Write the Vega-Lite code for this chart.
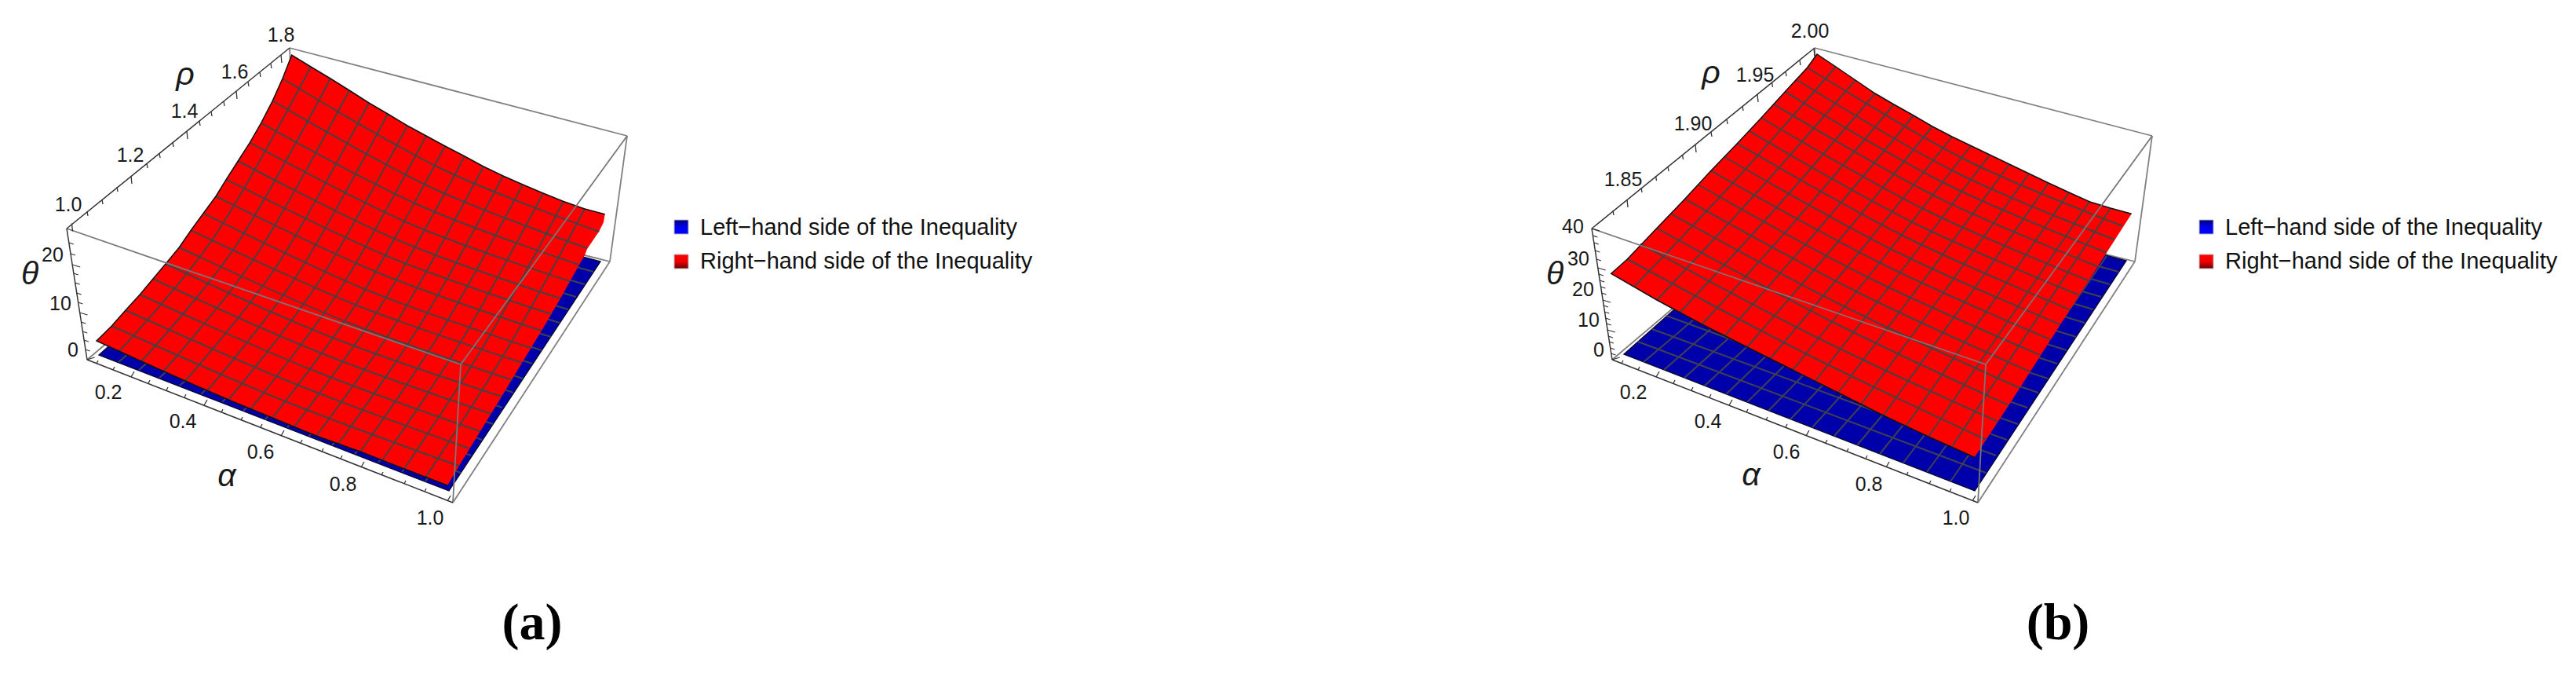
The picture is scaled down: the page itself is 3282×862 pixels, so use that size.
{
"$schema":"https://vega.github.io/schema/vega-lite/v6.json",
"autosize":{"type":"fit","contains":"padding"},"width":3282,"height":862,"padding":0,
"background":"white","view":{"stroke":null},
"encoding":{"x":{"field":"x","type":"quantitative","scale":{"domain":[0,3282],"nice":false,"zero":false},"axis":null},
"y":{"field":"y","type":"quantitative","scale":{"domain":[862,0],"nice":false,"zero":false},"axis":null}},
"datasets":{
"backBox":[
{"x":369,"y":61,"x2":799,"y2":173},{"x":799,"y":173,"x2":777,"y2":333},{"x":777,"y":333,"x2":377,"y2":233},{"x":111,"y":458,"x2":377,"y2":233},{"x":369,"y":61,"x2":377,"y2":233},{"x":577,"y":640,"x2":777,"y2":333},
{"x":2312,"y":61,"x2":2742,"y2":173},{"x":2742,"y":173,"x2":2720,"y2":333},{"x":2720,"y":333,"x2":2320,"y2":233},{"x":2054,"y":458,"x2":2320,"y2":233},{"x":2312,"y":61,"x2":2320,"y2":233},{"x":2520,"y":640,"x2":2720,"y2":333}],
"frontBox":[
{"x":85,"y":291,"x2":587,"y2":464},{"x":587,"y":464,"x2":799,"y2":173},{"x":587,"y":464,"x2":577,"y2":640},
{"x":2028,"y":291,"x2":2530,"y2":464},{"x":2530,"y":464,"x2":2742,"y2":173},{"x":2530,"y":464,"x2":2520,"y2":640}],
"axes":[
{"x":85,"y":291,"x2":369,"y2":61},{"x":85,"y":291,"x2":111,"y2":458},{"x":111,"y":458,"x2":577,"y2":640},
{"x":2028,"y":291,"x2":2312,"y2":61},{"x":2028,"y":291,"x2":2054,"y2":458},{"x":2054,"y":458,"x2":2520,"y2":640}],
"ticks":[
{"x":123,"y":463,"x2":125,"y2":459},{"x":144,"y":471,"x2":146,"y2":467},{"x":167,"y":480,"x2":171,"y2":473},{"x":189,"y":488,"x2":191,"y2":484},{"x":212,"y":497,"x2":214,"y2":493},{"x":235,"y":506,"x2":237,"y2":502},{"x":260,"y":516,"x2":264,"y2":509},{"x":282,"y":525,"x2":284,"y2":521},{"x":307,"y":535,"x2":309,"y2":531},{"x":332,"y":544,"x2":334,"y2":540},{"x":358,"y":555,"x2":362,"y2":548},{"x":383,"y":564,"x2":385,"y2":560},{"x":410,"y":575,"x2":412,"y2":571},{"x":434,"y":584,"x2":436,"y2":580},{"x":460,"y":595,"x2":464,"y2":588},{"x":486,"y":605,"x2":488,"y2":601},{"x":515,"y":616,"x2":517,"y2":612},{"x":541,"y":626,"x2":543,"y2":622},{"x":570,"y":638,"x2":574,"y2":631},
{"x":2066,"y":463,"x2":2068,"y2":459},{"x":2087,"y":471,"x2":2089,"y2":467},{"x":2110,"y":480,"x2":2114,"y2":473},{"x":2132,"y":488,"x2":2134,"y2":484},{"x":2155,"y":497,"x2":2157,"y2":493},{"x":2178,"y":506,"x2":2180,"y2":502},{"x":2203,"y":516,"x2":2207,"y2":509},{"x":2225,"y":525,"x2":2227,"y2":521},{"x":2250,"y":535,"x2":2252,"y2":531},{"x":2275,"y":544,"x2":2277,"y2":540},{"x":2301,"y":555,"x2":2305,"y2":548},{"x":2326,"y":564,"x2":2328,"y2":560},{"x":2353,"y":575,"x2":2355,"y2":571},{"x":2377,"y":584,"x2":2379,"y2":580},{"x":2403,"y":595,"x2":2407,"y2":588},{"x":2429,"y":605,"x2":2431,"y2":601},{"x":2458,"y":616,"x2":2460,"y2":612},{"x":2484,"y":626,"x2":2486,"y2":622},{"x":2513,"y":638,"x2":2517,"y2":631},
{"x":91.5,"y":284.5,"x2":92.5,"y2":294.5},{"x":111,"y":269,"x2":112,"y2":275},{"x":130,"y":254,"x2":131,"y2":260},{"x":149,"y":238,"x2":150,"y2":244},{"x":167,"y":224,"x2":168,"y2":234},{"x":187,"y":208,"x2":188,"y2":214},{"x":203,"y":195,"x2":204,"y2":201},{"x":220,"y":181,"x2":221,"y2":187},{"x":238,"y":167,"x2":239,"y2":177},{"x":254,"y":154,"x2":255,"y2":160},{"x":269,"y":142,"x2":270,"y2":148},{"x":285,"y":129,"x2":286,"y2":135},{"x":301,"y":116,"x2":302,"y2":126},{"x":316,"y":104,"x2":317,"y2":110},{"x":331,"y":92,"x2":332,"y2":98},{"x":345,"y":81,"x2":346,"y2":87},{"x":358,"y":70,"x2":359,"y2":80},
{"x":2055,"y":268,"x2":2056,"y2":274},{"x":2073,"y":254,"x2":2074,"y2":264},{"x":2091,"y":239,"x2":2092,"y2":245},{"x":2109.5,"y":224,"x2":2110.5,"y2":230},{"x":2125,"y":212,"x2":2126,"y2":218},{"x":2143.5,"y":197,"x2":2144.5,"y2":203},{"x":2160,"y":184,"x2":2161,"y2":194},{"x":2180,"y":168,"x2":2181,"y2":174},{"x":2200,"y":152,"x2":2201,"y2":158},{"x":2220,"y":135,"x2":2221,"y2":141},{"x":2239,"y":120,"x2":2240,"y2":130},{"x":2257.5,"y":105,"x2":2258.5,"y2":111},{"x":2275,"y":91,"x2":2276,"y2":97},{"x":2293,"y":77,"x2":2294,"y2":83},{"x":2311,"y":62,"x2":2312,"y2":72},
{"x":87.8,"y":309,"x2":93.8,"y2":311},{"x":90,"y":323,"x2":96,"y2":325},{"x":92.1,"y":337,"x2":102.1,"y2":340},{"x":93.8,"y":348,"x2":99.8,"y2":350},{"x":95.6,"y":360,"x2":101.6,"y2":362},{"x":97.6,"y":373,"x2":103.6,"y2":375},{"x":99.5,"y":385,"x2":105.5,"y2":387},{"x":101.5,"y":398,"x2":111.5,"y2":401},{"x":103.3,"y":410,"x2":109.3,"y2":412},{"x":105.2,"y":422,"x2":111.2,"y2":424},{"x":106.9,"y":433,"x2":112.9,"y2":435},{"x":108.7,"y":445,"x2":114.7,"y2":447},{"x":110.7,"y":458,"x2":120.7,"y2":455},
{"x":2028,"y":291,"x2":2038,"y2":294},{"x":2029.4,"y":300,"x2":2035.4,"y2":302},{"x":2030.8,"y":309,"x2":2036.8,"y2":311},{"x":2032.3,"y":319,"x2":2038.3,"y2":321},{"x":2034,"y":330,"x2":2040,"y2":332},{"x":2035.7,"y":341,"x2":2045.7,"y2":344},{"x":2037,"y":349,"x2":2043,"y2":351},{"x":2038.2,"y":357,"x2":2044.2,"y2":359},{"x":2039.4,"y":365,"x2":2045.4,"y2":367},{"x":2040.6,"y":373,"x2":2046.6,"y2":375},{"x":2042,"y":382,"x2":2052,"y2":385},{"x":2043,"y":389,"x2":2049,"y2":391},{"x":2044.3,"y":397,"x2":2050.3,"y2":399},{"x":2045.6,"y":405,"x2":2051.6,"y2":407},{"x":2046.6,"y":412,"x2":2052.6,"y2":414},{"x":2047.9,"y":420,"x2":2057.9,"y2":423},{"x":2049,"y":428,"x2":2055,"y2":430},{"x":2050,"y":435,"x2":2056,"y2":437},{"x":2051.4,"y":443,"x2":2057.4,"y2":445},{"x":2052.5,"y":450,"x2":2058.5,"y2":452},{"x":2053.7,"y":458,"x2":2063.7,"y2":455}],
"blueSurface":[
{"p":"a","o":0,"x":377,"y":228},{"p":"a","o":1,"x":126,"y":452},{"p":"a","o":2,"x":572,"y":625},{"p":"a","o":3,"x":765,"y":333},{"p":"a","o":4,"x":377,"y":228},
{"p":"b","o":0,"x":2320,"y":228},{"p":"b","o":1,"x":2069,"y":451},{"p":"b","o":2,"x":2516,"y":625},{"p":"b","o":3,"x":2709,"y":332},{"p":"b","o":4,"x":2320,"y":228}],
"blueMesh":[
{"x":151,"y":461,"x2":401,"y2":249},{"x":177,"y":471,"x2":426,"y2":254},{"x":203,"y":481,"x2":450,"y2":260},{"x":229,"y":491,"x2":474,"y2":265},{"x":256,"y":502,"x2":498,"y2":271},{"x":283,"y":512,"x2":523,"y2":276},{"x":310,"y":523,"x2":547,"y2":282},{"x":338,"y":534,"x2":571,"y2":287},{"x":366,"y":544,"x2":595,"y2":293},{"x":394,"y":555,"x2":620,"y2":299},{"x":423,"y":567,"x2":644,"y2":304},{"x":452,"y":578,"x2":668,"y2":310},{"x":482,"y":589,"x2":692,"y2":315},{"x":512,"y":601,"x2":717,"y2":321},{"x":542,"y":613,"x2":741,"y2":326},
{"x":144,"y":435,"x2":587,"y2":602},{"x":162,"y":419,"x2":600,"y2":580},{"x":180,"y":402,"x2":614,"y2":560},{"x":197,"y":387,"x2":628,"y2":540},{"x":214,"y":372,"x2":640,"y2":519},{"x":231,"y":357,"x2":654,"y2":500},{"x":247,"y":342,"x2":666,"y2":482},{"x":263,"y":328,"x2":678,"y2":463},{"x":278,"y":315,"x2":690,"y2":446},{"x":293,"y":301,"x2":702,"y2":429},{"x":308,"y":287,"x2":713,"y2":411},{"x":322,"y":275,"x2":724,"y2":394},{"x":337,"y":261,"x2":734,"y2":378},{"x":351,"y":249,"x2":745,"y2":362},{"x":364,"y":237,"x2":756,"y2":346},
{"x":2094,"y":461,"x2":2344,"y2":249},{"x":2120,"y":471,"x2":2369,"y2":254},{"x":2146,"y":481,"x2":2393,"y2":260},{"x":2172,"y":491,"x2":2417,"y2":265},{"x":2199,"y":502,"x2":2441,"y2":271},{"x":2226,"y":512,"x2":2466,"y2":276},{"x":2253,"y":523,"x2":2490,"y2":282},{"x":2281,"y":534,"x2":2514,"y2":287},{"x":2309,"y":544,"x2":2538,"y2":293},{"x":2337,"y":555,"x2":2563,"y2":299},{"x":2366,"y":567,"x2":2587,"y2":304},{"x":2395,"y":578,"x2":2611,"y2":310},{"x":2425,"y":589,"x2":2635,"y2":315},{"x":2455,"y":601,"x2":2660,"y2":321},{"x":2485,"y":613,"x2":2684,"y2":326},
{"x":2087,"y":435,"x2":2530,"y2":602},{"x":2105,"y":419,"x2":2543,"y2":580},{"x":2123,"y":402,"x2":2557,"y2":560},{"x":2140,"y":387,"x2":2571,"y2":540},{"x":2157,"y":372,"x2":2583,"y2":519},{"x":2174,"y":357,"x2":2597,"y2":500},{"x":2190,"y":342,"x2":2609,"y2":482},{"x":2206,"y":328,"x2":2621,"y2":463},{"x":2221,"y":315,"x2":2633,"y2":446},{"x":2236,"y":301,"x2":2645,"y2":429},{"x":2251,"y":287,"x2":2656,"y2":411},{"x":2265,"y":275,"x2":2667,"y2":394},{"x":2280,"y":261,"x2":2677,"y2":378},{"x":2294,"y":249,"x2":2688,"y2":362},{"x":2307,"y":237,"x2":2699,"y2":346}],
"redSurface":[
{"p":"a","o":0,"e":1,"x":570,"y":618},{"p":"a","o":1,"e":1,"x":515,"y":597},{"p":"a","o":2,"e":1,"x":459,"y":575},{"p":"a","o":3,"e":1,"x":403,"y":555},{"p":"a","o":4,"e":1,"x":347,"y":532},{"p":"a","o":5,"e":1,"x":291,"y":509},{"p":"a","o":6,"e":1,"x":236,"y":485},{"p":"a","o":7,"e":1,"x":180,"y":460},{"p":"a","o":8,"e":1,"x":123,"y":434},{"p":"a","o":9,"e":1,"x":142.3,"y":415},{"p":"a","o":10,"e":1,"x":160,"y":395},{"p":"a","o":11,"e":1,"x":178.3,"y":375},{"p":"a","o":12,"e":1,"x":195,"y":355},{"p":"a","o":13,"e":1,"x":211,"y":336},{"p":"a","o":14,"e":1,"x":228.3,"y":315},{"p":"a","o":15,"e":1,"x":243.3,"y":293.3},{"p":"a","o":16,"e":1,"x":259,"y":271.7},{"p":"a","o":17,"e":1,"x":275,"y":250},{"p":"a","o":18,"e":1,"x":288.3,"y":228.3},{"p":"a","o":19,"e":1,"x":303.3,"y":205},{"p":"a","o":20,"e":1,"x":318.3,"y":181.7},{"p":"a","o":21,"e":1,"x":332.7,"y":156.7},{"p":"a","o":22,"e":1,"x":347.3,"y":128.3},{"p":"a","o":23,"e":1,"x":360,"y":100},{"p":"a","o":24,"e":1,"x":371.7,"y":70},{"p":"a","o":25,"e":1,"x":396,"y":85},{"p":"a","o":26,"e":1,"x":421,"y":100},{"p":"a","o":27,"e":1,"x":445,"y":115},{"p":"a","o":28,"e":1,"x":470,"y":131},{"p":"a","o":29,"e":1,"x":494,"y":145},{"p":"a","o":30,"e":1,"x":519,"y":160},{"p":"a","o":31,"e":1,"x":543,"y":173},{"p":"a","o":32,"e":1,"x":567,"y":186},{"p":"a","o":33,"e":1,"x":592,"y":199},{"p":"a","o":34,"e":1,"x":616,"y":212},{"p":"a","o":35,"e":1,"x":641,"y":224},{"p":"a","o":36,"e":1,"x":666,"y":235},{"p":"a","o":37,"e":1,"x":692,"y":246},{"p":"a","o":38,"e":1,"x":718,"y":256.5},{"p":"a","o":39,"e":1,"x":745,"y":266},{"p":"a","o":40,"e":1,"x":770.7,"y":272.7},{"p":"a","o":41,"e":0,"x":769,"y":283},{"p":"a","o":42,"e":0,"x":763,"y":295},{"p":"a","o":43,"e":0,"x":748,"y":317},{"p":"a","o":44,"e":0,"x":745,"y":325},{"p":"a","o":45,"e":0,"x":738,"y":337},{"p":"a","o":46,"e":0,"x":714,"y":380},{"p":"a","o":47,"e":0,"x":690,"y":421},{"p":"a","o":48,"e":0,"x":665,"y":462},{"p":"a","o":49,"e":0,"x":639,"y":505},{"p":"a","o":50,"e":0,"x":612,"y":549},{"p":"a","o":51,"e":0,"x":585,"y":593},
{"p":"b","o":0,"e":1,"x":2515.7,"y":582.3},{"p":"b","o":1,"e":1,"x":2457,"y":556},{"p":"b","o":2,"e":1,"x":2399.5,"y":529},{"p":"b","o":3,"e":1,"x":2342,"y":500},{"p":"b","o":4,"e":1,"x":2284,"y":471},{"p":"b","o":5,"e":1,"x":2226,"y":442},{"p":"b","o":6,"e":1,"x":2168.5,"y":413},{"p":"b","o":7,"e":1,"x":2111,"y":382},{"p":"b","o":8,"e":1,"x":2052.7,"y":348.3},{"p":"b","o":9,"e":1,"x":2073.3,"y":330},{"p":"b","o":10,"e":1,"x":2110.7,"y":290.7},{"p":"b","o":11,"e":1,"x":2146.7,"y":253.3},{"p":"b","o":12,"e":1,"x":2180,"y":217.3},{"p":"b","o":13,"e":1,"x":2213.3,"y":182.7},{"p":"b","o":14,"e":1,"x":2244,"y":150},{"p":"b","o":15,"e":1,"x":2274.3,"y":116.7},{"p":"b","o":16,"e":1,"x":2302.7,"y":86},{"p":"b","o":17,"e":1,"x":2315,"y":69},{"p":"b","o":18,"e":1,"x":2339,"y":85},{"p":"b","o":19,"e":1,"x":2364,"y":102},{"p":"b","o":20,"e":1,"x":2389,"y":119},{"p":"b","o":21,"e":1,"x":2413,"y":133},{"p":"b","o":22,"e":1,"x":2438,"y":147},{"p":"b","o":23,"e":1,"x":2462,"y":161},{"p":"b","o":24,"e":1,"x":2487,"y":174},{"p":"b","o":25,"e":1,"x":2511,"y":185.5},{"p":"b","o":26,"e":1,"x":2535,"y":197},{"p":"b","o":27,"e":1,"x":2560,"y":209},{"p":"b","o":28,"e":1,"x":2585,"y":221},{"p":"b","o":29,"e":1,"x":2610,"y":233},{"p":"b","o":30,"e":1,"x":2636,"y":245},{"p":"b","o":31,"e":1,"x":2662,"y":256.7},{"p":"b","o":32,"e":1,"x":2689,"y":265},{"p":"b","o":33,"e":1,"x":2715.7,"y":272.3},{"p":"b","o":34,"e":0,"x":2684,"y":321.7},{"p":"b","o":35,"e":0,"x":2625,"y":413.3},{"p":"b","o":36,"e":0,"x":2559.3,"y":516}],
"redMesh":[
{"m":"ak1","o":0,"x":396,"y":85},{"m":"ak1","o":1,"x":274,"y":300},{"m":"ak1","o":2,"x":152,"y":447},
{"m":"ak2","o":0,"x":421,"y":100},{"m":"ak2","o":1,"x":300.5,"y":313},{"m":"ak2","o":2,"x":180,"y":460},
{"m":"ak3","o":0,"x":445,"y":115},{"m":"ak3","o":1,"x":326.5,"y":325},{"m":"ak3","o":2,"x":208,"y":473},
{"m":"ak4","o":0,"x":470,"y":131},{"m":"ak4","o":1,"x":353,"y":338},{"m":"ak4","o":2,"x":236,"y":485},
{"m":"ak5","o":0,"x":494,"y":145},{"m":"ak5","o":1,"x":379,"y":349.5},{"m":"ak5","o":2,"x":263.5,"y":498},
{"m":"ak6","o":0,"x":519,"y":160},{"m":"ak6","o":1,"x":405,"y":360.5},{"m":"ak6","o":2,"x":291,"y":509},
{"m":"ak7","o":0,"x":543,"y":173},{"m":"ak7","o":1,"x":431,"y":372},{"m":"ak7","o":2,"x":319,"y":521},
{"m":"ak8","o":0,"x":567,"y":186},{"m":"ak8","o":1,"x":457,"y":382},{"m":"ak8","o":2,"x":347,"y":532},
{"m":"ak9","o":0,"x":592,"y":199},{"m":"ak9","o":1,"x":483.5,"y":392},{"m":"ak9","o":2,"x":375,"y":543},
{"m":"ak10","o":0,"x":616,"y":212},{"m":"ak10","o":1,"x":509.5,"y":403.5},{"m":"ak10","o":2,"x":403,"y":555},
{"m":"ak11","o":0,"x":641,"y":224},{"m":"ak11","o":1,"x":536,"y":412.5},{"m":"ak11","o":2,"x":431,"y":565},
{"m":"ak12","o":0,"x":666,"y":235},{"m":"ak12","o":1,"x":562.5,"y":421},{"m":"ak12","o":2,"x":459,"y":575},
{"m":"ak13","o":0,"x":692,"y":246},{"m":"ak13","o":1,"x":589.5,"y":431},{"m":"ak13","o":2,"x":487,"y":586},
{"m":"ak14","o":0,"x":718,"y":256.5},{"m":"ak14","o":1,"x":616.5,"y":440},{"m":"ak14","o":2,"x":515,"y":597},
{"m":"ak15","o":0,"x":745,"y":266},{"m":"ak15","o":1,"x":643.7,"y":448.5},{"m":"ak15","o":2,"x":542.5,"y":607},
{"m":"aj1","o":0,"x":360,"y":100},{"m":"aj1","o":1,"x":561.6,"y":214.5},{"m":"aj1","o":2,"x":763.3,"y":295},
{"m":"aj2","o":0,"x":347.3,"y":128.3},{"m":"aj2","o":1,"x":547.8,"y":238},{"m":"aj2","o":2,"x":748.3,"y":316},
{"m":"aj3","o":0,"x":332.7,"y":156.7},{"m":"aj3","o":1,"x":535.5,"y":262},{"m":"aj3","o":2,"x":738.3,"y":337.3},
{"m":"aj4","o":0,"x":318.3,"y":181.7},{"m":"aj4","o":1,"x":522.5,"y":285},{"m":"aj4","o":2,"x":726.7,"y":358.3},
{"m":"aj5","o":0,"x":303.3,"y":205},{"m":"aj5","o":1,"x":508.7,"y":306.5},{"m":"aj5","o":2,"x":714,"y":380},
{"m":"aj6","o":0,"x":288.3,"y":228.3},{"m":"aj6","o":1,"x":495.5,"y":327},{"m":"aj6","o":2,"x":702.7,"y":400},
{"m":"aj7","o":0,"x":275,"y":250},{"m":"aj7","o":1,"x":482.5,"y":347.5},{"m":"aj7","o":2,"x":690,"y":421},
{"m":"aj8","o":0,"x":259,"y":271.7},{"m":"aj8","o":1,"x":468,"y":369.5},{"m":"aj8","o":2,"x":677.3,"y":443.3},
{"m":"aj9","o":0,"x":243.3,"y":293.3},{"m":"aj9","o":1,"x":454,"y":388.5},{"m":"aj9","o":2,"x":665,"y":461.7},
{"m":"aj10","o":0,"x":228.3,"y":315},{"m":"aj10","o":1,"x":440.5,"y":409.5},{"m":"aj10","o":2,"x":652.7,"y":484},
{"m":"aj11","o":0,"x":211,"y":336},{"m":"aj11","o":1,"x":425,"y":430.5},{"m":"aj11","o":2,"x":639.3,"y":505},
{"m":"aj12","o":0,"x":195,"y":355},{"m":"aj12","o":1,"x":410,"y":450},{"m":"aj12","o":2,"x":625.7,"y":526.7},
{"m":"aj13","o":0,"x":178.3,"y":375},{"m":"aj13","o":1,"x":395,"y":470},{"m":"aj13","o":2,"x":611.7,"y":549.3},
{"m":"aj14","o":0,"x":160,"y":395},{"m":"aj14","o":1,"x":378.7,"y":490},{"m":"aj14","o":2,"x":597.3,"y":570.7},
{"m":"aj15","o":0,"x":142.3,"y":415},{"m":"aj15","o":1,"x":363.7,"y":511},{"m":"aj15","o":2,"x":585,"y":593.3},
{"m":"bk1","o":0,"x":2339,"y":85},{"m":"bk1","o":1,"x":2210.5,"y":230},{"m":"bk1","o":2,"x":2082,"y":365},
{"m":"bk2","o":0,"x":2364,"y":102},{"m":"bk2","o":1,"x":2237.5,"y":246},{"m":"bk2","o":2,"x":2111,"y":382},
{"m":"bk3","o":0,"x":2389,"y":119},{"m":"bk3","o":1,"x":2264.5,"y":263},{"m":"bk3","o":2,"x":2140,"y":398},
{"m":"bk4","o":0,"x":2413,"y":133},{"m":"bk4","o":1,"x":2291,"y":277},{"m":"bk4","o":2,"x":2168.5,"y":413},
{"m":"bk5","o":0,"x":2438,"y":147},{"m":"bk5","o":1,"x":2317.5,"y":291},{"m":"bk5","o":2,"x":2197,"y":428},
{"m":"bk6","o":0,"x":2462,"y":161},{"m":"bk6","o":1,"x":2344,"y":305},{"m":"bk6","o":2,"x":2226,"y":442},
{"m":"bk7","o":0,"x":2487,"y":174},{"m":"bk7","o":1,"x":2371,"y":318.5},{"m":"bk7","o":2,"x":2255,"y":457},
{"m":"bk8","o":0,"x":2511,"y":185.5},{"m":"bk8","o":1,"x":2397.5,"y":331},{"m":"bk8","o":2,"x":2284,"y":471},
{"m":"bk9","o":0,"x":2535,"y":197},{"m":"bk9","o":1,"x":2424,"y":343},{"m":"bk9","o":2,"x":2313,"y":485},
{"m":"bk10","o":0,"x":2560,"y":209},{"m":"bk10","o":1,"x":2451,"y":356.5},{"m":"bk10","o":2,"x":2342,"y":500},
{"m":"bk11","o":0,"x":2585,"y":221},{"m":"bk11","o":1,"x":2478,"y":370},{"m":"bk11","o":2,"x":2371,"y":515},
{"m":"bk12","o":0,"x":2610,"y":233},{"m":"bk12","o":1,"x":2505,"y":382},{"m":"bk12","o":2,"x":2399.5,"y":529},
{"m":"bk13","o":0,"x":2636,"y":245},{"m":"bk13","o":1,"x":2532,"y":395},{"m":"bk13","o":2,"x":2428,"y":543},
{"m":"bk14","o":0,"x":2662,"y":256.7},{"m":"bk14","o":1,"x":2559.5,"y":407},{"m":"bk14","o":2,"x":2457,"y":556},
{"m":"bk15","o":0,"x":2689,"y":265},{"m":"bk15","o":1,"x":2587.5,"y":417.5},{"m":"bk15","o":2,"x":2486,"y":570},
{"m":"bj1","o":0,"x":2302.7,"y":86},{"m":"bj1","o":1,"x":2503.3,"y":203},{"m":"bj1","o":2,"x":2704,"y":287.7},
{"m":"bj2","o":0,"x":2288.3,"y":101},{"m":"bj2","o":1,"x":2491,"y":219},{"m":"bj2","o":2,"x":2694,"y":305},
{"m":"bj3","o":0,"x":2274.3,"y":116.7},{"m":"bj3","o":1,"x":2479,"y":234},{"m":"bj3","o":2,"x":2684,"y":321.7},
{"m":"bj4","o":0,"x":2260,"y":132.7},{"m":"bj4","o":1,"x":2466,"y":250},{"m":"bj4","o":2,"x":2671.7,"y":339},
{"m":"bj5","o":0,"x":2244,"y":150},{"m":"bj5","o":1,"x":2452.5,"y":267},{"m":"bj5","o":2,"x":2661,"y":357.3},
{"m":"bj6","o":0,"x":2228.3,"y":166.7},{"m":"bj6","o":1,"x":2438.7,"y":284},{"m":"bj6","o":2,"x":2649,"y":375.7},
{"m":"bj7","o":0,"x":2213.3,"y":182.7},{"m":"bj7","o":1,"x":2425.3,"y":300.5},{"m":"bj7","o":2,"x":2637.3,"y":394.3},
{"m":"bj8","o":0,"x":2197.3,"y":200},{"m":"bj8","o":1,"x":2411,"y":318},{"m":"bj8","o":2,"x":2625,"y":413.3},
{"m":"bj9","o":0,"x":2180,"y":217.3},{"m":"bj9","o":1,"x":2396,"y":335},{"m":"bj9","o":2,"x":2612.3,"y":432.3},
{"m":"bj10","o":0,"x":2163.3,"y":235},{"m":"bj10","o":1,"x":2381.7,"y":354},{"m":"bj10","o":2,"x":2600,"y":452.3},
{"m":"bj11","o":0,"x":2146.7,"y":253.3},{"m":"bj11","o":1,"x":2366.7,"y":372},{"m":"bj11","o":2,"x":2586.7,"y":473.3},
{"m":"bj12","o":0,"x":2129.3,"y":272.3},{"m":"bj12","o":1,"x":2351.3,"y":391},{"m":"bj12","o":2,"x":2573.3,"y":494},
{"m":"bj13","o":0,"x":2110.7,"y":290.7},{"m":"bj13","o":1,"x":2335,"y":410},{"m":"bj13","o":2,"x":2559.3,"y":516},
{"m":"bj14","o":0,"x":2090,"y":310.7},{"m":"bj14","o":1,"x":2317.5,"y":431},{"m":"bj14","o":2,"x":2545,"y":536.7},
{"m":"bj15","o":0,"x":2073.3,"y":330},{"m":"bj15","o":1,"x":2302,"y":451},{"m":"bj15","o":2,"x":2530.7,"y":560}],
"tickLabels":[
{"x":358,"y":45,"t":"1.8"},{"x":299,"y":92,"t":"1.6"},{"x":235,"y":142,"t":"1.4"},{"x":166,"y":198,"t":"1.2"},{"x":87,"y":261,"t":"1.0"},
{"x":67,"y":325,"t":"20"},{"x":77,"y":387,"t":"10"},{"x":93,"y":446,"t":"0"},
{"x":138,"y":500,"t":"0.2"},{"x":233,"y":537,"t":"0.4"},{"x":332,"y":576,"t":"0.6"},{"x":437,"y":617,"t":"0.8"},{"x":548,"y":660,"t":"1.0"},
{"x":2306,"y":40,"t":"2.00"},{"x":2236,"y":96,"t":"1.95"},{"x":2157,"y":158,"t":"1.90"},{"x":2068,"y":229,"t":"1.85"},
{"x":2004,"y":289,"t":"40"},{"x":2011,"y":330,"t":"30"},{"x":2017,"y":369,"t":"20"},{"x":2024,"y":408,"t":"10"},{"x":2037,"y":446,"t":"0"},
{"x":2081,"y":500,"t":"0.2"},{"x":2176,"y":537,"t":"0.4"},{"x":2276,"y":576,"t":"0.6"},{"x":2381,"y":617,"t":"0.8"},{"x":2492,"y":660,"t":"1.0"}],
"greek":[
{"x":236,"y":96,"t":"ρ"},{"x":38,"y":350,"t":"θ"},{"x":289,"y":607,"t":"α"},
{"x":2180,"y":94,"t":"ρ"},{"x":1981,"y":350,"t":"θ"},{"x":2231,"y":606,"t":"α"}],
"captions":[{"x":678,"y":814,"t":"(a)"},{"x":2622,"y":814,"t":"(b)"}],
"legendText":[
{"x":892,"y":299,"t":"Left−hand side of the Inequality"},{"x":892,"y":342,"t":"Right−hand side of the Inequality"},
{"x":2835,"y":299,"t":"Left−hand side of the Inequality"},{"x":2835,"y":342,"t":"Right−hand side of the Inequality"}],
"legendBlue":[{"x":868,"y":289},{"x":2811,"y":289}],
"legendRed":[{"x":868,"y":333},{"x":2811,"y":333}]
},
"layer":[
{"data":{"name":"backBox"},"mark":{"type":"rule","stroke":"#808080","strokeWidth":1.8},"encoding":{"x2":{"field":"x2"},"y2":{"field":"y2"}}},
{"data":{"name":"blueSurface"},"mark":{"type":"line","fill":"#0000AA","stroke":"#0a0a30","strokeWidth":1.4},"encoding":{"detail":{"field":"p"},"order":{"field":"o"}}},
{"data":{"name":"blueMesh"},"mark":{"type":"rule","stroke":"#404050","strokeWidth":2},"encoding":{"x2":{"field":"x2"},"y2":{"field":"y2"}}},
{"data":{"name":"redSurface"},"mark":{"type":"line","fill":"#FF0000","stroke":null,"strokeWidth":0},"encoding":{"detail":{"field":"p"},"order":{"field":"o"}}},
{"data":{"name":"redMesh"},"mark":{"type":"line","stroke":"#474040","strokeWidth":2,"interpolate":"cardinal"},"encoding":{"detail":{"field":"m"},"order":{"field":"o"}}},
{"data":{"name":"redSurface"},"transform":[{"filter":"datum.e==1"}],"mark":{"type":"line","stroke":"#111111","strokeWidth":1.5},"encoding":{"detail":{"field":"p"},"order":{"field":"o"}}},
{"data":{"name":"frontBox"},"mark":{"type":"rule","stroke":"#777777","strokeWidth":1.8},"encoding":{"x2":{"field":"x2"},"y2":{"field":"y2"}}},
{"data":{"name":"axes"},"mark":{"type":"rule","stroke":"#333333","strokeWidth":1.5},"encoding":{"x2":{"field":"x2"},"y2":{"field":"y2"}}},
{"data":{"name":"ticks"},"mark":{"type":"rule","stroke":"#333333","strokeWidth":1.3},"encoding":{"x2":{"field":"x2"},"y2":{"field":"y2"}}},
{"data":{"name":"tickLabels"},"mark":{"type":"text","font":"Liberation Sans","fontSize":25,"fill":"#1a1a1a","align":"center","baseline":"middle"},"encoding":{"text":{"field":"t"}}},
{"data":{"name":"greek"},"mark":{"type":"text","font":"Liberation Sans","fontStyle":"italic","fontSize":41,"fill":"#1a1a1a","align":"center","baseline":"middle"},"encoding":{"text":{"field":"t"}}},
{"data":{"name":"captions"},"mark":{"type":"text","font":"Liberation Serif","fontWeight":"bold","fontSize":66,"fill":"#000000","align":"center","baseline":"alphabetic"},"encoding":{"text":{"field":"t"}}},
{"data":{"name":"legendText"},"mark":{"type":"text","font":"Liberation Sans","fontSize":29,"fill":"#111111","align":"left","baseline":"alphabetic"},"encoding":{"text":{"field":"t"}}},
{"data":{"name":"legendBlue"},"mark":{"type":"point","shape":"square","size":324,"filled":true,"opacity":1,"fill":{"gradient":"linear","x1":0,"y1":0,"x2":0,"y2":1,"stops":[{"offset":0,"color":"#00007a"},{"offset":0.5,"color":"#0000ee"},{"offset":1,"color":"#0000ff"}]},"stroke":"#bbbbbb","strokeWidth":1}},
{"data":{"name":"legendRed"},"mark":{"type":"point","shape":"square","size":324,"filled":true,"opacity":1,"fill":{"gradient":"linear","x1":0,"y1":0,"x2":0,"y2":1,"stops":[{"offset":0,"color":"#ff0000"},{"offset":0.5,"color":"#ee0000"},{"offset":1,"color":"#6a0000"}]},"stroke":"#bbbbbb","strokeWidth":1}}
]
}
